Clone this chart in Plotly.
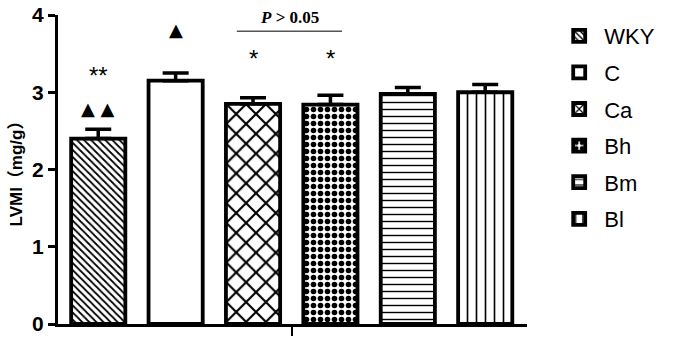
import plotly.graph_objects as go

groups = ["WKY", "C", "Ca", "Bh", "Bm", "Bl"]
lvmi = [2.40, 3.15, 2.85, 2.84, 2.98, 3.00]
sem = [0.12, 0.10, 0.08, 0.12, 0.08, 0.10]
patterns = ["\\", "", "x", ".", "-", "|"]
pat_size = [5, 8, 14, 7, 7, 9]
pat_solid = [0.35, 0.2, 0.28, 0.5, 0.2, 0.18]

fig = go.Figure()
for i, g in enumerate(groups):
    fig.add_trace(go.Bar(
        x=[i], y=[lvmi[i]], name=g, width=0.70, legendgroup=g,
        marker=dict(color="white", line=dict(color="black", width=3.8),
                    pattern=dict(shape=patterns[i], fgcolor="black", bgcolor="white", fgopacity=1,
                                 size=pat_size[i], solidity=pat_solid[i])),
        error_y=dict(type="data", array=[sem[i]], arrayminus=[0], symmetric=False,
                     color="black", thickness=3.5, width=13),
    ))

ann_font = dict(family="Arial", size=24, color="black")
tri_font = dict(family="DejaVu Sans", size=18, color="black")
annotations = [
    dict(x=0, y=3.22, text="**", showarrow=False, font=ann_font),
    dict(x=0, y=2.79, text="▲ ▲", showarrow=False, font=tri_font),
    dict(x=1, y=3.81, text="▲", showarrow=False, font=tri_font),
    dict(x=2, y=3.44, text="*", showarrow=False, font=ann_font),
    dict(x=3, y=3.44, text="*", showarrow=False, font=ann_font),
    dict(x=2.47, y=3.97, text="<b><i>P</i> &gt; 0.05</b>", showarrow=False,
         font=dict(family="Liberation Serif", size=17, color="black")),
]
fig.add_shape(type="line", x0=1.79, x1=3.15, y0=3.79, y1=3.79, xref="x", yref="y",
              line=dict(color="#555555", width=1.5))

fig.update_layout(
    width=675, height=338,
    margin=dict(l=58, r=148, t=15, b=14),
    plot_bgcolor="white", paper_bgcolor="white",
    barmode="overlay",
    showlegend=True,
    legend=dict(x=1.058, y=1.0, xanchor="left", yanchor="top",
                font=dict(family="Arial", size=22, color="black"),
                itemwidth=40, tracegroupgap=5, traceorder="grouped"),
    annotations=annotations,
    xaxis=dict(range=[-0.52, 5.54], showgrid=False, zeroline=False, automargin=False,
               showline=True, linecolor="black", linewidth=3,
               tickvals=[2.5], ticks="outside", ticklen=9, tickwidth=2, tickcolor="black",
               showticklabels=False),
    yaxis=dict(range=[0, 4], showgrid=False, zeroline=False, automargin=False,
               showline=True, linecolor="black", linewidth=3,
               tickvals=[0, 1, 2, 3, 4], ticks="outside", ticklen=7, tickwidth=3, tickcolor="black",
               tickfont=dict(family="Arial", size=21, color="black", weight="bold"),
               title=dict(text="LVMI（mg/g）",
                          font=dict(family="Arial, Noto Sans CJK SC", size=17, color="black", weight="bold"),
                          standoff=6)),
)

fig.write_html("out.html", config={"displayModeBar": False},
               post_script="document.body.style.margin='0';")
